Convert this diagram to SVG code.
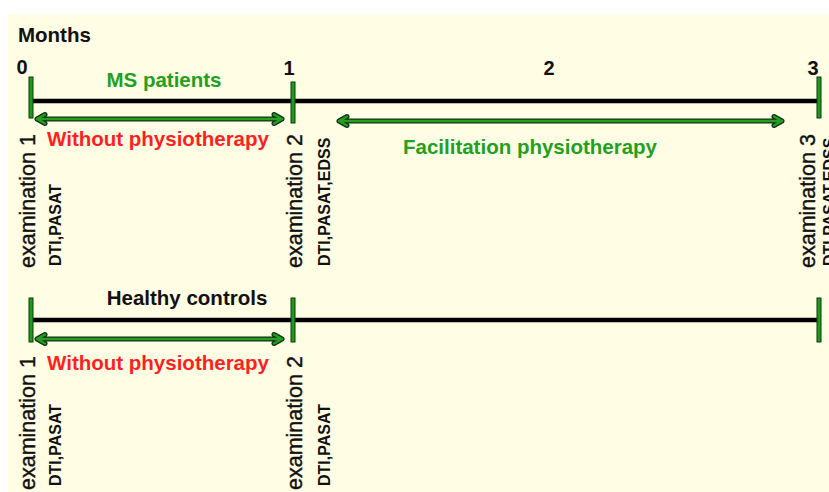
<svg xmlns="http://www.w3.org/2000/svg" width="829" height="492" viewBox="0 0 829 492">
<style>
  .lbl { font-family: "Liberation Sans", Arial, sans-serif; font-weight: bold; font-size: 20.5px; }
  .num { font-family: "Liberation Sans", Arial, sans-serif; font-weight: bold; font-size: 20px; fill: #111; text-anchor: middle; }
  .exam { font-family: "Liberation Sans", Arial, sans-serif; font-size: 21.5px; fill: #111; stroke: #111; stroke-width: 0.4; }
  .meas { font-family: "Liberation Sans", Arial, sans-serif; font-weight: bold; font-size: 16px; fill: #111; }
  .green { fill: #22a022; }
  .red { fill: #ff1f1f; }
  .axis { stroke: #000; stroke-width: 4.5; fill: none; }
  .tick { fill: #1f9a1f; stroke: #0d3a0d; stroke-width: 1; }
  .arrOut { stroke: #143014; stroke-width: 5; fill: none; stroke-linecap: round; stroke-linejoin: round; }
  .arrIn { stroke: #22a022; stroke-width: 2.4; fill: none; stroke-linecap: round; stroke-linejoin: round; }
</style>
<rect x="0" y="0" width="829" height="492" fill="#ffffff"/>
<rect x="8" y="14" width="821" height="478" fill="#fffde3"/>

<g id="header">
  <text class="lbl" x="18" y="42" fill="#111">Months</text>
  <text class="num" x="22" y="74">0</text>
  <text class="num" x="289" y="75">1</text>
  <text class="num" x="549" y="75">2</text>
  <text class="num" x="813" y="75">3</text>
</g>

<g id="connectors">
  <line class="axis" x1="31" y1="101" x2="820" y2="101"/>
  <line class="axis" x1="31" y1="320" x2="820" y2="320"/>
  <path class="arrOut" d="M37,119 H282 M37,119 L45,114.5 M37,119 L45,123.5 M282,119 L274,114.5 M282,119 L274,123.5"/>
  <path class="arrIn" d="M37,119 H282 M37,119 L45,114.5 M37,119 L45,123.5 M282,119 L274,114.5 M282,119 L274,123.5"/>
  <path class="arrOut" d="M339,121 H782 M339,121 L347,116.5 M339,121 L347,125.5 M782,121 L774,116.5 M782,121 L774,125.5"/>
  <path class="arrIn" d="M339,121 H782 M339,121 L347,116.5 M339,121 L347,125.5 M782,121 L774,116.5 M782,121 L774,125.5"/>
  <path class="arrOut" d="M37,339 H282 M37,339 L45,334.5 M37,339 L45,343.5 M282,339 L274,334.5 M282,339 L274,343.5"/>
  <path class="arrIn" d="M37,339 H282 M37,339 L45,334.5 M37,339 L45,343.5 M282,339 L274,334.5 M282,339 L274,343.5"/>
</g>

<g id="ms-patients">
  <text class="lbl green" x="164" y="87" text-anchor="middle">MS patients</text>
  <rect class="tick" x="29" y="77" width="4" height="41"/>
  <rect class="tick" x="291" y="82" width="4" height="41"/>
  <rect class="tick" x="817" y="77" width="4" height="41"/>
  <text class="lbl red" x="158" y="146" text-anchor="middle">Without physiotherapy</text>
  <text class="lbl green" x="530" y="154" text-anchor="middle">Facilitation physiotherapy</text>
</g>

<g id="ms-exam1">
  <text class="exam" transform="translate(35,268) rotate(-90)">examination 1</text>
  <text class="meas" transform="translate(61,266) rotate(-90)">DTI,PASAT</text>
</g>
<g id="ms-exam2">
  <text class="exam" transform="translate(302,268) rotate(-90)">examination 2</text>
  <text class="meas" transform="translate(330,266) rotate(-90)">DTI,PASAT,EDSS</text>
</g>
<g id="ms-exam3">
  <text class="exam" transform="translate(815,268) rotate(-90)">examination 3</text>
  <text class="meas" transform="translate(835,266) rotate(-90)">DTI,PASAT,EDSS</text>
</g>

<g id="healthy-controls">
  <text class="lbl" x="187" y="305" text-anchor="middle" fill="#111">Healthy controls</text>
  <rect class="tick" x="29" y="298" width="4" height="44"/>
  <rect class="tick" x="291" y="298" width="4" height="44"/>
  <rect class="tick" x="817" y="298" width="4" height="44"/>
  <text class="lbl red" x="158" y="370" text-anchor="middle">Without physiotherapy</text>
</g>

<g id="hc-exam1">
  <text class="exam" transform="translate(35,490) rotate(-90)">examination 1</text>
  <text class="meas" transform="translate(61,486) rotate(-90)">DTI,PASAT</text>
</g>
<g id="hc-exam2">
  <text class="exam" transform="translate(302,490) rotate(-90)">examination 2</text>
  <text class="meas" transform="translate(330,486) rotate(-90)">DTI,PASAT</text>
</g>
</svg>
